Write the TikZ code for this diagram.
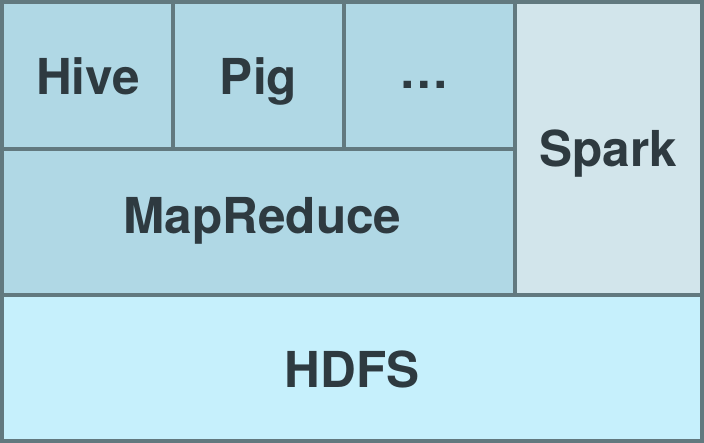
\documentclass[tikz,border=0pt]{standalone}
\usepackage{fontspec}
\setmainfont{TeX Gyre Heros}
\definecolor{edge}{RGB}{98,121,127}
\definecolor{toptile}{RGB}{176,216,229}
\definecolor{sparkfill}{RGB}{210,229,235}
\definecolor{hdfsfill}{RGB}{198,240,252}
\definecolor{ink}{RGB}{46,58,64}
\tikzset{
  tile/.style={draw=edge, line width=4pt, rectangle, inner sep=0pt, outer sep=0pt, anchor=center},
  word/.style={text=ink, inner sep=0pt, outer sep=0pt, anchor=base,
    font=\fontsize{49.5}{49.5}\selectfont\bfseries},
}
\begin{document}
\begin{tikzpicture}[x=1pt,y=-1pt]
\useasboundingbox (0,0) rectangle (704,443);
\node[tile, fill=hdfsfill, minimum width=699.5pt, minimum height=145.5pt] (hdfs) at (351.75,367.75) {};
\node[tile, fill=toptile, minimum width=513pt, minimum height=146pt] (mr) at (258.5,222) {};
\node[tile, fill=sparkfill, minimum width=186.5pt, minimum height=293pt] (spark) at (608.25,148.5) {};
\node[tile, fill=toptile, minimum width=171pt, minimum height=147pt] (hive) at (87.5,75.5) {};
\node[tile, fill=toptile, minimum width=171pt, minimum height=147pt] (pig) at (258.5,75.5) {};
\node[tile, fill=toptile, minimum width=171pt, minimum height=147pt] (dots) at (429.5,75.5) {};
\node[word] (hivetext) at (88,94.3) {Hive};
\node[word] (pigtext) at (258.5,94.8) {Pig};
\node[word] (dotstext) at (424,88.3) {…};
\node[word] (mrtext) at (262.5,233.3) {MapReduce};
\node[word] (sparktext) at (608.3,166.5) {Spark};
\node[word] (hdfstext) at (352,387.3) {HDFS};
\end{tikzpicture}
\end{document}
